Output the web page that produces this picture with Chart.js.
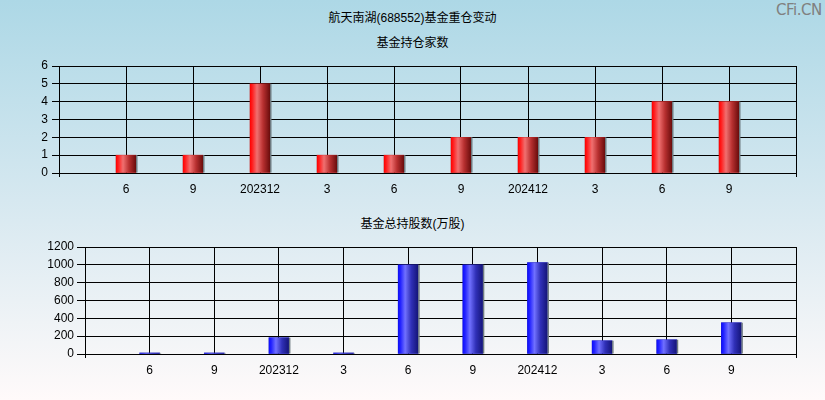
<!DOCTYPE html>
<html>
<head>
<meta charset="utf-8">
<script src="https://cdn.jsdelivr.net/npm/chart.js@4/dist/chart.umd.min.js"></script>
<style>
  html, body { margin: 0; padding: 0; }
  body {
    width: 825px; height: 400px; overflow: hidden; position: relative;
    background: linear-gradient(to bottom, #add8e6 0%, #d6e8f0 50%, #fffafa 100%);
    font-family: "Liberation Sans", "Noto Sans CJK SC", sans-serif;
  }
  .title {
    position: absolute; left: 0; width: 825px; text-align: center;
    font-size: 12px; line-height: 16px; color: #000;
  }
  .mark {
    position: absolute; left: 776px; top: 1px; font-size: 15px;
    font-family: "DejaVu Sans", sans-serif; color: #808080; letter-spacing: -0.5px;
  }
  canvas { position: absolute; left: 0; }
</style>
</head>
<body>
<div class="title" style="top:10px">航天南湖(688552)基金重仓变动</div>
<div class="title" style="top:35px">基金持仓家数</div>
<div class="title" style="top:216px">基金总持股数(万股)</div>
<div class="mark">CFi.CN</div>
<div style="position:absolute;left:0;top:0;width:825px;height:200px"><canvas id="topChart"></canvas></div>
<div style="position:absolute;left:0;top:200px;width:825px;height:200px"><canvas id="bottomChart"></canvas></div>
<script>
// x axis labels (report periods)
const periodLabels = ['6', '9', '202312', '3', '6', '9', '202412', '3', '6', '9'];
// number of funds holding
const fundCounts = [1, 1, 5, 1, 1, 2, 2, 2, 4, 4];
// total shares held by funds (10k shares)
const fundShares = [12, 12, 183, 12, 1000, 1000, 1025, 149, 160, 351];

const countTicks = [0, 1, 2, 3, 4, 5, 6];
const shareTicks = [0, 200, 400, 600, 800, 1000, 1200];

const FONT = { family: '"Liberation Sans", "Noto Sans CJK SC", sans-serif', size: 12 };

// paint each bar with a horizontal cylinder-like gradient
const barGradient = {
    id: 'barGradient',
    afterDatasetsDraw(chart, args, opts) {
        const ctx = chart.ctx;
        chart.getDatasetMeta(0).data.forEach(bar => {
            const p = bar.getProps(['x', 'y', 'base', 'width'], true);
            const left = p.x - p.width / 2;
            const g = ctx.createLinearGradient(left, 0, left + p.width, 0);
            opts.stops.forEach(s => g.addColorStop(s[0], s[1]));
            ctx.save();
            ctx.fillStyle = g;
            ctx.fillRect(left, p.y, p.width, p.base - p.y);
            ctx.fillStyle = '#6f7a80';
            ctx.fillRect(left + p.width, p.y, 1.5, p.base - p.y);
            ctx.restore();
        });
    }
};

function makeChart(id, values, yTicks, opt) {
    const ctx = document.getElementById(id).getContext('2d');
    return new Chart(ctx, {
        type: 'bar',
        data: {
            datasets: [{
                data: values.map((v, i) => ({ x: i + 1, y: v })),
                backgroundColor: opt.base,
                borderWidth: 0,
                barThickness: 20
            }]
        },
        plugins: [barGradient],
        options: {
            responsive: true,
            maintainAspectRatio: false,
            animation: false,
            layout: { padding: { top: opt.top, right: 29, left: 0, bottom: 0 } },
            plugins: {
                legend: { display: false },
                tooltip: { enabled: false },
                barGradient: { stops: opt.stops }
            },
            scales: {
                x: {
                    type: 'linear',
                    min: 0,
                    max: periodLabels.length + 1,
                    offset: false,
                    afterFit: s => { s.height = opt.xHeight; },
                    grid: {
                        offset: false,
                        color: '#000',
                        lineWidth: 1,
                        tickLength: 4,
                        tickColor: c => (c.tick && (c.tick.value === 0 || c.tick.value === periodLabels.length + 1)) ? '#000' : 'rgba(0,0,0,0)'
                    },
                    border: { color: '#000', width: 1 },
                    ticks: {
                        stepSize: 1,
                        autoSkip: false,
                        maxRotation: 0,
                        padding: 5,
                        color: '#000',
                        font: FONT,
                        callback: v => periodLabels[v - 1] || ''
                    }
                },
                y: {
                    min: yTicks[0],
                    max: yTicks[yTicks.length - 1],
                    afterFit: s => { s.width = opt.yWidth; },
                    afterBuildTicks: s => { s.ticks = yTicks.map(v => ({ value: v })); },
                    grid: { color: '#000', lineWidth: 1, tickLength: opt.yTick },
                    border: { color: '#000', width: 1 },
                    ticks: { padding: opt.yPad, color: '#000', font: FONT, callback: v => String(v) }
                }
            }
        }
    });
}

makeChart('topChart', fundCounts, countTicks, {
    top: 66, xHeight: 27, yWidth: 59, yTick: 7, yPad: 4,
    base: '#c02020',
    stops: [[0, '#ff0000'], [0.12, '#ff2020'], [0.35, '#f07070'], [0.65, '#b83030'], [1, '#6a0c0c']]
});

makeChart('bottomChart', fundShares, shareTicks, {
    top: 47, xHeight: 46, yWidth: 85, yTick: 8, yPad: 3,
    base: '#2020c0',
    stops: [[0, '#0c0cff'], [0.12, '#2424ff'], [0.35, '#7070ff'], [0.65, '#3030b8'], [1, '#141478']]
});
</script>
</body>
</html>
